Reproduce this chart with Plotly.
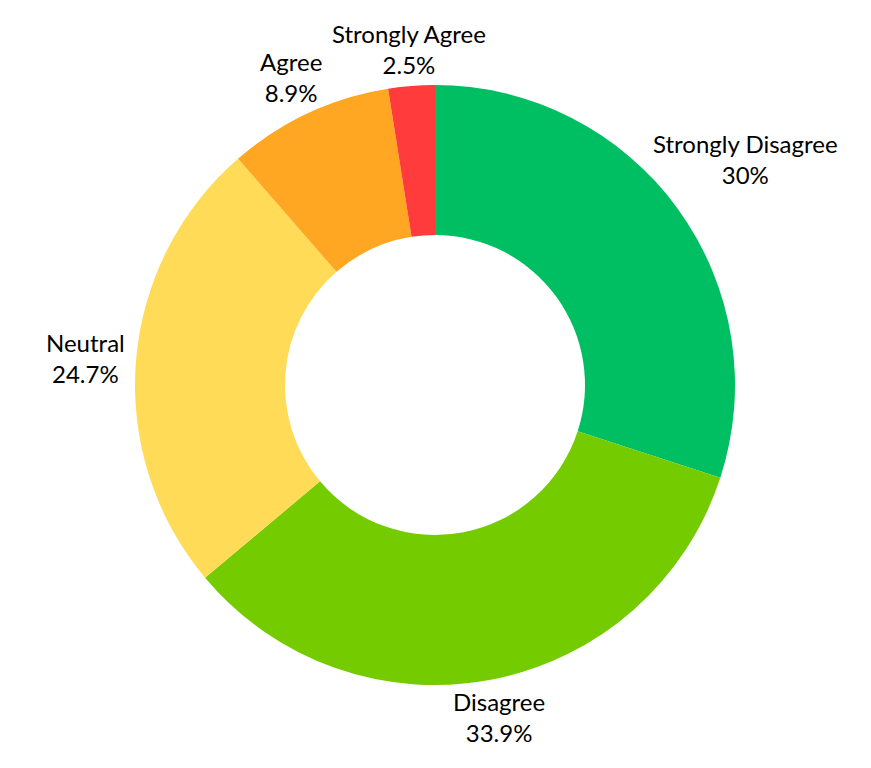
import math
import plotly.graph_objects as go

labels = ["Strongly Disagree", "Disagree", "Neutral", "Agree", "Strongly Agree"]
values = [30.0, 33.9, 24.7, 8.9, 2.5]
colors = ["#00BF63", "#74CC00", "#FFDB58", "#FFA623", "#FF3B3B"]

W, H = 871, 768
cx, cy, R = 435, 385, 300
FONT = 24

fig = go.Figure(go.Pie(
    labels=labels,
    values=values,
    hole=0.5,
    sort=False,
    direction="clockwise",
    rotation=0,
    marker=dict(colors=colors, line=dict(width=0)),
    textinfo="none",
    hoverinfo="label+percent",
    showlegend=False,
    domain=dict(x=[(cx - R) / W, (cx + R) / W], y=[1 - (cy + R) / H, 1 - (cy - R) / H]),
))

# Labels placed outside, along each slice's mid-angle (derived from the values)
total = sum(values)
cum = 0.0
annotations = []
for lab, v in zip(labels, values):
    mid = (cum + v / 2) / total * 2 * math.pi
    cum += v
    ux, uy = math.sin(mid), -math.cos(mid)
    pct = v / total * 100
    pct_txt = f"{pct:.1f}".rstrip("0").rstrip(".") + "%"
    w = max(len(lab), len(pct_txt)) * 11.7
    r = R + 21 + 0.70 * abs(ux) * w / 2 + 11.3 * abs(uy)
    px, py = cx + ux * r, cy + uy * r
    annotations.append(dict(
        x=px / W, y=1 - py / H, xref="paper", yref="paper",
        text=f"{lab}<br>{pct_txt}", showarrow=False,
        xanchor="center", yanchor="middle", align="center",
        font=dict(family="Lato", size=FONT, color="#000000"),
    ))

fig.update_layout(
    width=W, height=H,
    margin=dict(l=0, r=0, t=0, b=0),
    paper_bgcolor="white",
    plot_bgcolor="white",
    annotations=annotations,
)

fig.write_html("out.html")
